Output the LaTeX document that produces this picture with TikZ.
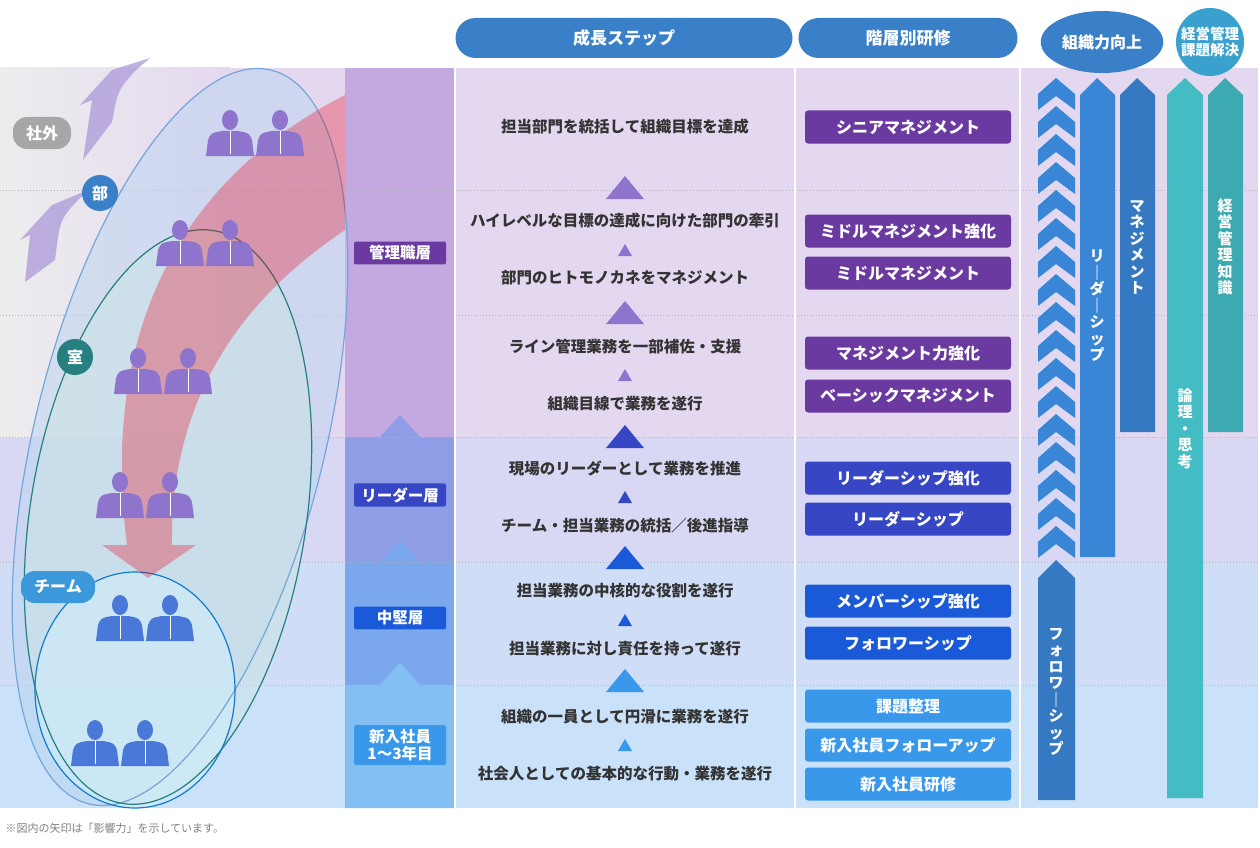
\documentclass[tikz,border=0pt]{standalone}
\usepackage{fontspec}
\setmainfont{Noto Sans CJK JP}
\usetikzlibrary{positioning, shapes.geometric}

\definecolor{bgMg}{HTML}{E4D8F0}
\definecolor{bgLd}{HTML}{D8D8F4}
\definecolor{bgMd}{HTML}{CFDDF6}
\definecolor{bgNw}{HTML}{C9E1F9}
\definecolor{colMg}{HTML}{C3A9E0}
\definecolor{colLd}{HTML}{8E9DE6}
\definecolor{colMd}{HTML}{7BA8EC}
\definecolor{colNw}{HTML}{83BFF3}
\definecolor{tMg}{HTML}{6B3AA0}
\definecolor{tLd}{HTML}{3646C4}
\definecolor{tMd}{HTML}{1A5AD8}
\definecolor{tNw}{HTML}{3A98EA}
\definecolor{hdBlue}{HTML}{3A80C8}
\definecolor{arBlue}{HTML}{3A86D6}
\definecolor{arTeal}{HTML}{44BCC4}
\definecolor{txt}{HTML}{333333}
\definecolor{pMg}{HTML}{8E74CC}
\definecolor{pBl}{HTML}{4A78D8}

\tikzset{
  header/.style={fill=hdBlue, rounded corners=20pt, text=white, font=\fontsize{17}{19}\selectfont\bfseries, minimum height=40pt},
  steptext/.style={text=txt, font=\fontsize{15.5}{18}\selectfont\bfseries},
  course/.style={fill=#1, rounded corners=3pt, text=white, minimum width=206pt, minimum height=33pt, font=\fontsize{16}{18}\selectfont\bfseries},
  level/.style={fill=#1, rounded corners=2pt, text=white, minimum width=92pt, font=\fontsize{15.5}{17}\selectfont\bfseries, align=center, inner sep=4pt},
  vtext/.style={text=white, align=center, font=\fontsize{15}{16.5}\selectfont\bfseries, inner sep=0pt},
  dotline/.style={gray!60, dotted, line width=1pt},
  tag/.style={text=white, font=\fontsize{16}{18}\selectfont\bfseries},
}

\newcommand{\bigtri}[3]{\fill[#3] (#1-19,#2+11) -- (#1+19,#2+11) -- (#1,#2-12) -- cycle;}
\newcommand{\smalltri}[3]{\fill[#3] (#1-7,#2+6) -- (#1+7,#2+6) -- (#1,#2-6) -- cycle;}
\newcommand{\oneman}[3]{%
  \fill[#3] (#1,#2-20) ellipse (8 and 10);
  \fill[#3] (#1-24,#2+16) -- (#1-22,#2) .. controls (#1-19,#2-7) .. (#1-8,#2-9)
    -- (#1+8,#2-9) .. controls (#1+19,#2-7) .. (#1+22,#2) -- (#1+24,#2+16) -- cycle;
  \draw[white, line width=0.8pt] (#1,#2-9) -- (#1,#2+14);}
\newcommand{\twomen}[3]{\oneman{#1-25}{#2}{#3}\oneman{#1+25}{#2}{#3}}

\begin{document}
\begin{tikzpicture}[x=1pt, y=-1pt]
\useasboundingbox (0,0) rectangle (1260,848);
\fill[white] (0,0) rectangle (1260,848);

% bands
\fill[bgMg] (0,68) rectangle (1258,437);
\fill[bgLd] (0,437) rectangle (1258,562);
\fill[bgMd] (0,562) rectangle (1258,685);
\fill[bgNw] (0,685) rectangle (1258,808);
\shade[left color=gray!14, right color=bgMg] (0,68) rectangle (230,437);

% level column
\fill[colMg] (345,68) rectangle (455,437);
\fill[colLd] (345,437) -- (380,437) -- (400,415) -- (420,437) -- (455,437) -- (455,562) -- (345,562) -- cycle;
\fill[colMd] (345,562) -- (380,562) -- (400,540) -- (420,562) -- (455,562) -- (455,685) -- (345,685) -- cycle;
\fill[colNw] (345,685) -- (380,685) -- (400,663) -- (420,685) -- (455,685) -- (455,808) -- (345,808) -- cycle;

% dotted rows
\foreach \yy in {190,315,437,562,685}
  \draw[dotline] (0,\yy) -- (1258,\yy);
\foreach \xx in {455,795,1020}
  \draw[white, line width=1.5pt] (\xx,68) -- (\xx,808);

% left scene
\fill[pMg!70, opacity=0.8] (83,160) -- (92,100) -- (80,105) -- (112,70) -- (150,58) -- (136,70) .. controls (118,90) .. (112,122) -- cycle;
\fill[pMg!70, opacity=0.8] (25,282) -- (30,235) -- (20,240) -- (52,205) -- (88,190) -- (76,202) .. controls (60,220) .. (55,260) -- cycle;
\begin{scope}[opacity=0.5]
  \fill[arBlue!35] (180,437) ellipse [x radius=145, y radius=378, rotate=-14];
  \fill[teal!20] (168,517) ellipse [x radius=138, y radius=290, rotate=-9];
  \fill[cyan!18] (135,690) ellipse [x radius=100, y radius=118];
\end{scope}
\draw[hdBlue!70, line width=1.2pt] (180,437) ellipse [x radius=145, y radius=378, rotate=-14];
\draw[teal!70!gray, line width=1.2pt] (168,517) ellipse [x radius=138, y radius=290, rotate=-9];
\draw[cyan!60!blue, line width=1.2pt] (135,690) ellipse [x radius=100, y radius=118];

% influence arrow
\fill[red!70!purple, opacity=0.3] (345,95) .. controls (180,180) and (100,330) .. (127,545)
  -- (102,545) -- (148,578) -- (196,545) -- (172,545) .. controls (170,400) and (240,300) .. (345,230) -- cycle;

\twomen{255}{140}{pMg}
\twomen{205}{250}{pMg}
\twomen{163}{378}{pMg}
\twomen{145}{502}{pMg}
\twomen{145}{625}{pBl}
\twomen{120}{750}{pBl}

\node[tag, fill=gray!70, rounded corners=14pt, minimum width=58pt, minimum height=32pt] (shagai) at (42,133) {社外};
\node[tag, fill=hdBlue, circle, minimum size=36pt, inner sep=0pt] (bu) at (100,193) {部};
\node[tag, fill=teal!70!gray, circle, minimum size=36pt, inner sep=0pt] (shitsu) at (75,357) {室};
\node[tag, fill=cyan!70!blue!80, rounded corners=14pt, minimum width=74pt, minimum height=32pt] (team) at (58,587) {チーム};

% levels
\node[level=tMg] (lvMg) at (400,253) {管理職層};
\node[level=tLd] (lvLd) at (400,495) {リーダー層};
\node[level=tMd] (lvMd) at (400,618) {中堅層};
\node[level=tNw] (lvNw) at (400,745) {新入社員\\1〜3年目};

% headers
\node[header, minimum width=337pt] (hStep) at (624,38) {成長ステップ};
\node[header, minimum width=219pt] (hCourse) at (908,38) {階層別研修};
\node[fill=hdBlue, ellipse, minimum width=114pt, minimum height=62pt, text=white, font=\fontsize{16}{18}\selectfont\bfseries] (hOrg) at (1102,42) {組織力向上};
\node[fill=arTeal!85!blue, circle, minimum size=68pt, inner sep=0pt, text=white, align=center, font=\fontsize{14.5}{16.5}\selectfont\bfseries] (hMgt) at (1210,42) {経営管理\\課題解決};

% growth steps
\node[steptext] (s1) at (625,127) {担当部門を統括して組織目標を達成};
\node[steptext] (s2) at (625,221) {ハイレベルな目標の達成に向けた部門の牽引};
\node[steptext] (s3) at (625,278) {部門のヒトモノカネをマネジメント};
\node[steptext] (s4) at (625,347) {ライン管理業務を一部補佐・支援};
\node[steptext] (s5) at (625,404) {組織目線で業務を遂行};
\node[steptext] (s6) at (625,468) {現場のリーダーとして業務を推進};
\node[steptext] (s7) at (625,526) {チーム・担当業務の統括／後進指導};
\node[steptext] (s8) at (625,591) {担当業務の中核的な役割を遂行};
\node[steptext] (s9) at (625,649) {担当業務に対し責任を持って遂行};
\node[steptext] (s10) at (625,717) {組織の一員として円滑に業務を遂行};
\node[steptext] (s11) at (625,774) {社会人としての基本的な行動・業務を遂行};

\bigtri{625}{188}{pMg}
\bigtri{625}{313}{pMg}
\bigtri{625}{437}{tLd}
\bigtri{625}{558}{tMd}
\bigtri{625}{681}{tNw}
\smalltri{625}{250}{pMg}
\smalltri{625}{375}{pMg}
\smalltri{625}{497}{tLd}
\smalltri{625}{620}{tMd}
\smalltri{625}{745}{tNw}

% courses
\node[course=tMg] (c1) at (908,127) {シニアマネジメント};
\node[course=tMg] (c2) at (908,231) {ミドルマネジメント強化};
\node[course=tMg] (c3) at (908,273) {ミドルマネジメント};
\node[course=tMg] (c4) at (908,353) {マネジメント力強化};
\node[course=tMg] (c5) at (908,396) {ベーシックマネジメント};
\node[course=tLd] (c6) at (908,478) {リーダーシップ強化};
\node[course=tLd] (c7) at (908,519) {リーダーシップ};
\node[course=tMd] (c8) at (908,601) {メンバーシップ強化};
\node[course=tMd] (c9) at (908,643) {フォロワーシップ};
\node[course=tNw] (c10) at (908,706) {課題整理};
\node[course=tNw] (c11) at (908,745) {新入社員フォローアップ};
\node[course=tNw] (c12) at (908,784) {新入社員研修};

% right arrows
\foreach \yy in {78,106,...,530}
  \fill[arBlue] (1038,\yy+16) -- (1056,\yy) -- (1075,\yy+16) -- (1075,\yy+32) -- (1056,\yy+18) -- (1038,\yy+32) -- cycle;
\fill[arBlue!90!black] (1038,578) -- (1056,560) -- (1075,578) -- (1075,800) -- (1038,800) -- cycle;
\fill[arBlue] (1080,95) -- (1097,78) -- (1115,95) -- (1115,557) -- (1080,557) -- cycle;
\fill[arBlue!90!black] (1120,95) -- (1137,78) -- (1155,95) -- (1155,432) -- (1120,432) -- cycle;
\fill[arTeal] (1167,95) -- (1185,78) -- (1203,95) -- (1203,798) -- (1167,798) -- cycle;
\fill[arTeal!90!black] (1208,95) -- (1225,78) -- (1243,95) -- (1243,432) -- (1208,432) -- cycle;

\node[vtext, below] (vFollow) at (1056,628) {フ\\ォ\\ロ\\ワ\\｜\\シ\\ッ\\プ};
\node[vtext, below] (vLead) at (1097,250) {リ\\｜\\ダ\\｜\\シ\\ッ\\プ};
\node[vtext, below] (vMgmt) at (1137,200) {マ\\ネ\\ジ\\メ\\ン\\ト};
\node[vtext, below] (vLogic) at (1185,388) {論\\理\\・\\思\\考};
\node[vtext, below] (vKnow) at (1225,198) {経\\営\\管\\理\\知\\識};

\node[anchor=west, text=gray, font=\fontsize{11}{13}\selectfont] (note) at (2,828) {※図内の矢印は「影響力」を示しています。};
\end{tikzpicture}
\end{document}
